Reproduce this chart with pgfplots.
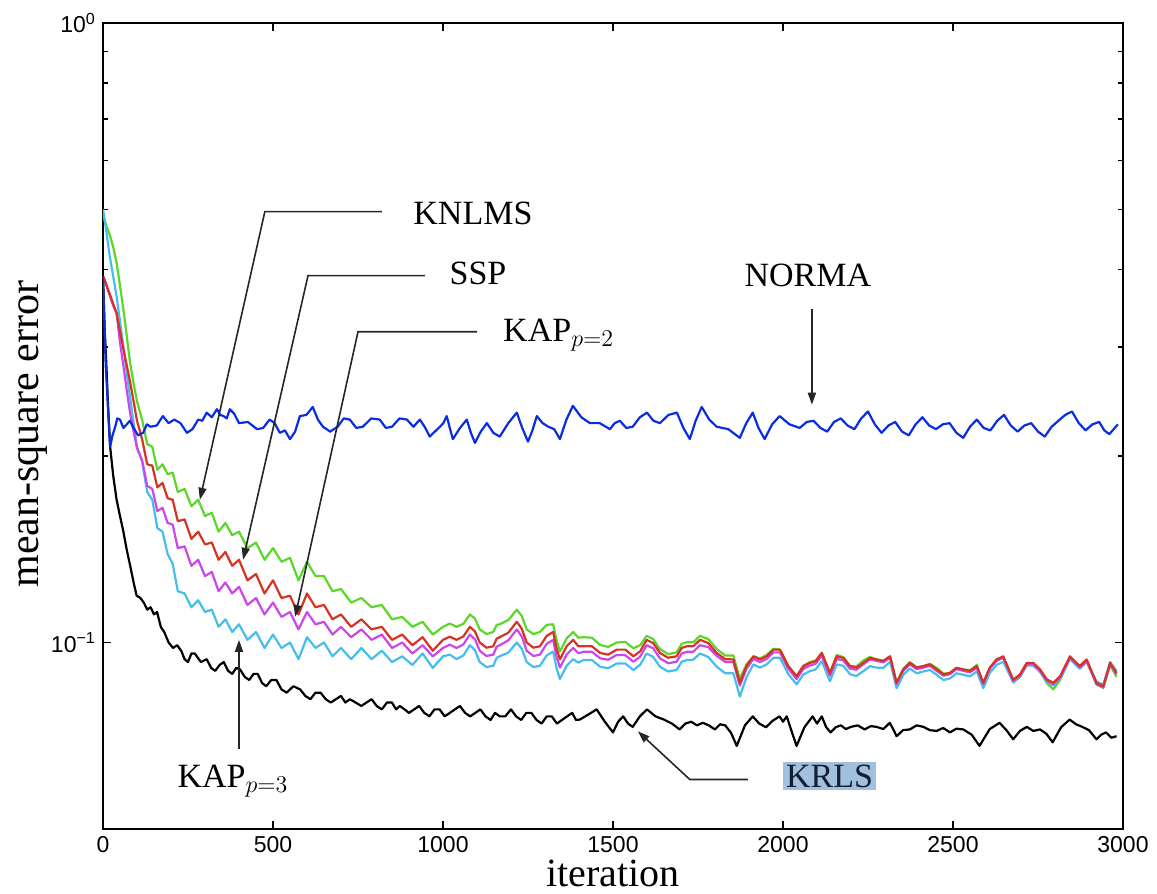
\documentclass[border=0pt]{standalone}
\usepackage{fontspec}
\setmainfont{Liberation Serif}
\newfontfamily\ticksans{Liberation Sans}
\usepackage{pgfplots}
\pgfplotsset{compat=1.18}
\usetikzlibrary{arrows.meta}

\definecolor{normaBlue}{RGB}{10,45,225}
\definecolor{knlmsGreen}{RGB}{90,215,40}
\definecolor{sspRed}{RGB}{215,50,35}
\definecolor{kapMag}{RGB}{205,70,235}
\definecolor{kapCyan}{RGB}{70,190,235}
\definecolor{krlsBox}{RGB}{160,192,222}

% it, KNLMS, SSP, KAP p=2, KAP p=3
\pgfplotstableread{
it    knlms  ssp    kap2   kap3
0     0.490  0.390  0.390  0.500
5     0.480  0.385  0.384  0.480
10    0.470  0.378  0.377  0.460
20    0.455  0.365  0.363  0.420
30    0.435  0.352  0.350  0.390
40    0.410  0.340  0.340  0.362
50    0.377  0.318  0.305  0.330
60    0.345  0.298  0.280  0.300
70    0.312  0.280  0.255  0.272
80    0.282  0.263  0.234  0.248
90    0.262  0.245  0.219  0.226
100   0.245  0.228  0.206  0.207
115   0.229  0.213  0.197  0.196
130   0.209  0.194  0.179  0.175
145   0.207  0.193  0.177  0.170
160   0.190  0.178  0.163  0.153
175   0.194  0.181  0.165  0.151
190   0.187  0.171  0.156  0.139
205   0.188  0.170  0.155  0.134
220   0.175  0.157  0.142  0.121
240   0.177  0.158  0.143  0.120
260   0.166  0.147  0.133  0.114
280   0.170  0.151  0.136  0.117
300   0.160  0.144  0.128  0.112
320   0.162  0.145  0.130  0.113
340   0.151  0.136  0.121  0.106
360   0.156  0.140  0.125  0.109
380   0.149  0.133  0.120  0.104
400   0.151  0.136  0.123  0.107
425   0.142  0.126  0.115  0.101
450   0.145  0.129  0.118  0.104
475   0.136  0.120  0.111  0.098
500   0.142  0.126  0.116  0.103
525   0.135  0.118  0.110  0.098
550   0.137  0.119  0.112  0.100
575   0.126  0.111  0.105  0.094
600   0.135  0.120  0.112  0.102
625   0.128  0.114  0.107  0.098
650   0.128  0.115  0.108  0.100
675   0.121  0.109  0.103  0.095
700   0.122  0.111  0.106  0.098
730   0.116  0.106  0.102  0.094
760   0.118  0.109  0.105  0.098
790   0.114  0.105  0.101  0.094
820   0.115  0.106  0.103  0.097
850   0.109  0.101  0.098  0.093
880   0.110  0.103  0.100  0.095
910   0.106  0.099  0.096  0.092
940   0.108  0.102  0.099  0.096
970   0.103  0.097  0.095  0.091
1000  0.106  0.101  0.098  0.095
1020  0.1073 0.1022 0.0992 0.0956
1040  0.106  0.101  0.098  0.094
1060  0.1072 0.1023 0.0993 0.0953
1079  0.111  0.106  0.103  0.099
1094  0.1093 0.1042 0.1012 0.0972
1108  0.105  0.100  0.097  0.093
1128  0.1032 0.0981 0.0951 0.0913
1148  0.104  0.0986 0.0956 0.0917
1158  0.1068 0.1015 0.0985 0.0945
1167  0.107  0.102  0.099  0.095
1192  0.1087 0.1037 0.1008 0.0963
1217  0.113  0.108  0.105  0.100
1232  0.1103 0.1052 0.1022 0.0977
1246  0.105  0.100  0.097  0.093
1266  0.1032 0.0981 0.0951 0.0913
1285  0.104  0.0986 0.0956 0.0917
1305  0.1068 0.1025 0.0995 0.0953
1324  0.107  0.104  0.101  0.0967
1334  0.1007 0.0978 0.0949 0.0909
1344  0.0967 0.0939 0.0911 0.0873
1364  0.1016 0.0987 0.0957 0.0918
1383  0.104  0.101  0.098  0.094
1398  0.1018 0.0986 0.0961 0.0928
1413  0.102  0.0986 0.0966 0.0937
1438  0.1018 0.0986 0.0966 0.0937
1462  0.0991 0.0962 0.0943 0.0914
1486  0.0984 0.0956 0.0938 0.0909
1511  0.100  0.0974 0.0955 0.0925
1536  0.1002 0.0974 0.0954 0.0925
1560  0.0979 0.0950 0.0931 0.0903
1580  0.0990 0.0968 0.0949 0.0921
1599  0.1025 0.101  0.099  0.0960
1618  0.1013 0.0998 0.0979 0.0948
1638  0.0976 0.0962 0.0943 0.0914
1662  0.0958 0.0945 0.0926 0.0898
1687  0.0964 0.0950 0.0931 0.0903
1702  0.0995 0.0980 0.0960 0.0931
1717  0.1001 0.0986 0.0966 0.0937
1736  0.1001 0.0986 0.0966 0.0938
1756  0.1025 0.101  0.099  0.0960
1780  0.1013 0.0998 0.0983 0.0948
1805  0.0976 0.0962 0.0952 0.0914
1830  0.0953 0.0940 0.0930 0.0892
1854  0.0953 0.0939 0.0930 0.0892
1873  0.0874 0.0861 0.0852 0.0818
1893  0.0923 0.0917 0.0908 0.0880
1913  0.0950 0.0950 0.0941 0.0922
1932  0.0942 0.0939 0.0930 0.0911
1952  0.0955 0.0950 0.0941 0.0922
1972  0.0977 0.0974 0.0964 0.0945
1991  0.0974 0.0974 0.0964 0.0945
2015  0.0917 0.0917 0.0908 0.0890
2040  0.0882 0.0882 0.0873 0.0856
2060  0.0917 0.0916 0.0907 0.0888
2079  0.0930 0.0927 0.0918 0.0899
2096  0.0935 0.0933 0.0924 0.0905
2114  0.0962 0.0962 0.0952 0.0933
2138  0.0893 0.0893 0.0884 0.0866
2158  0.0955 0.0950 0.0941 0.0922
2178  0.0947 0.0944 0.0935 0.0917
2197  0.0916 0.0916 0.0907 0.0889
2216  0.0915 0.0911 0.0904 0.0883
2236  0.0935 0.0927 0.0922 0.0899
2256  0.0948 0.0944 0.0939 0.0916
2275  0.0939 0.0939 0.0934 0.0911
2295  0.0934 0.0934 0.0929 0.0910
2315  0.0950 0.0950 0.0945 0.0931
2334  0.0861 0.0861 0.0857 0.0844
2354  0.0907 0.0905 0.0901 0.0887
2373  0.0930 0.0927 0.0922 0.0908
2393  0.0912 0.0911 0.0906 0.0892
2413  0.0916 0.0916 0.0911 0.0898
2432  0.0924 0.0922 0.0917 0.0903
2452  0.0910 0.0905 0.0900 0.0887
2472  0.0891 0.0888 0.0884 0.0870
2491  0.0893 0.0893 0.0889 0.0875
2510  0.0910 0.0910 0.0906 0.0892
2530  0.0905 0.0905 0.0900 0.0887
2550  0.0902 0.0900 0.0895 0.0882
2570  0.0920 0.0916 0.0911 0.0898
2589  0.0855 0.0861 0.0857 0.0844
2608  0.0908 0.0911 0.0907 0.0893
2628  0.0939 0.0939 0.0934 0.0920
2648  0.0945 0.0950 0.0945 0.0931
2677  0.0865 0.0871 0.0867 0.0862
2697  0.0885 0.0888 0.0884 0.0879
2717  0.0927 0.0927 0.0922 0.0918
2736  0.0925 0.0927 0.0922 0.0918
2756  0.0900 0.0905 0.0900 0.0896
2776  0.0860 0.0872 0.0868 0.0864
2795  0.0840 0.0861 0.0857 0.0852
2815  0.0870 0.0882 0.0878 0.0873
2844  0.0945 0.0950 0.0945 0.0940
2873  0.0916 0.0916 0.0911 0.0907
2893  0.0935 0.0939 0.0934 0.0930
2922  0.0855 0.0861 0.0857 0.0865
2942  0.0845 0.0850 0.0846 0.0855
2962  0.0920 0.0927 0.0922 0.0930
2981  0.0880 0.0893 0.0889 0.0900
}\msedata

\begin{document}
\begin{tikzpicture}
\begin{axis}[
  scale only axis, width=510pt, height=403pt,
  ymode=log, xmin=0, xmax=3000, ymin=0.05, ymax=1,
  xtick={0,500,...,3000},
  ytick={0.1,1}, yticklabels={10\textsuperscript{−1},10\textsuperscript{0}},
  tick align=inside, major tick length=4pt, minor tick length=2.5pt,
  axis line style={line width=1.2pt},
  every tick/.style={black, line width=0.8pt},
  tick label style={font=\ticksans\fontsize{11.5}{13}\selectfont},
  /pgf/number format/assume math mode=true,
  /pgf/number format/1000 sep={},
  xlabel={iteration}, ylabel={mean-square error},
  every axis x label/.style={at={(axis description cs:0.5,-0.055)}, anchor=center, font=\fontsize{20}{22}\selectfont},
  every axis y label/.style={at={(axis description cs:-0.069,0.49)}, rotate=90, anchor=center, font=\fontsize{21}{23}\selectfont},
  every axis plot/.append style={line width=1.1pt, line join=round},
]
  % KRLS
  \addplot[black] coordinates {
    (0,0.39) (5,0.32) (10,0.28) (15,0.24) (21,0.207) (30,0.186) (40,0.170) (50,0.160)
    (59,0.152) (70,0.141) (80,0.133) (90,0.125) (99,0.119) (110,0.118) (120,0.116)
    (130,0.113) (140,0.114) (150,0.111) (159,0.112) (170,0.106) (180,0.104) (193,0.100)
    (206,0.098) (218,0.099) (230,0.097) (240,0.094) (250,0.093) (260,0.096) (270,0.096)
    (288,0.093) (305,0.094) (318,0.091) (330,0.090) (343,0.092) (355,0.093) (368,0.090)
    (380,0.089) (392,0.091) (403,0.0905) (417,0.088) (430,0.087) (443,0.089) (455,0.089)
    (468,0.086) (480,0.085) (495,0.087) (510,0.087) (525,0.084) (540,0.083) (560,0.085)
    (580,0.084) (595,0.082) (610,0.081) (625,0.083) (640,0.083) (655,0.081) (670,0.080)
    (685,0.081) (700,0.082) (713,0.080) (726,0.081) (743,0.080) (760,0.079) (775,0.080)
    (790,0.081) (805,0.079) (820,0.078) (835,0.080) (850,0.080) (862,0.078) (873,0.079)
    (887,0.078) (900,0.077) (915,0.078) (930,0.079) (945,0.077) (960,0.076) (975,0.078)
    (990,0.078) (1005,0.076) (1020,0.077) (1035,0.078) (1050,0.079) (1065,0.077)
    (1080,0.076) (1095,0.077) (1110,0.078) (1125,0.076) (1140,0.075) (1153,0.077)
    (1167,0.076) (1183,0.076) (1200,0.078) (1215,0.076) (1230,0.075) (1245,0.077)
    (1260,0.077) (1275,0.075) (1290,0.074) (1305,0.076) (1320,0.076) (1335,0.074)
    (1350,0.075) (1365,0.076) (1380,0.077) (1391,0.075) (1402,0.0751) (1427,0.0765)
    (1452,0.0780) (1476,0.0745) (1500,0.0716) (1515,0.0745) (1530,0.0760) (1544,0.0740)
    (1558,0.0731) (1579,0.0760) (1600,0.0780) (1625,0.0760) (1650,0.0751) (1673,0.0740)
    (1696,0.0724) (1713,0.0740) (1730,0.0745) (1747,0.0735) (1764,0.0742) (1782,0.0735)
    (1800,0.0724) (1815,0.0738) (1830,0.0735) (1847,0.0715) (1864,0.0681) (1888,0.0735)
    (1911,0.0760) (1930,0.0740) (1950,0.0730) (1970,0.0748) (1990,0.0760) (2000,0.0745)
    (2011,0.0760) (2025,0.0720) (2040,0.0681) (2063,0.0730) (2087,0.0760) (2100,0.0740)
    (2114,0.0760) (2127,0.0730) (2140,0.0716) (2155,0.0730) (2170,0.0735) (2185,0.0725)
    (2200,0.0731) (2220,0.0735) (2240,0.0724) (2258,0.0733) (2275,0.0731) (2295,0.0725)
    (2314,0.0742) (2324,0.0725) (2334,0.0706) (2353,0.0722) (2373,0.0724) (2393,0.0735)
    (2413,0.0731) (2432,0.0722) (2452,0.0720) (2471,0.0728) (2491,0.0716) (2510,0.0726)
    (2530,0.0724) (2555,0.0710) (2578,0.0681) (2608,0.0725) (2637,0.0742) (2657,0.0722)
    (2677,0.0698) (2697,0.0720) (2717,0.0731) (2736,0.0720) (2756,0.0724) (2775,0.0712)
    (2793,0.0690) (2818,0.0730) (2843,0.0751) (2862,0.0738) (2880,0.0731) (2900,0.0722)
    (2922,0.0698) (2936,0.0710) (2950,0.0716) (2966,0.0702) (2981,0.0706)
  };
  \addplot[knlmsGreen] table[x=it, y=knlms] {\msedata};
  \addplot[kapCyan]    table[x=it, y=kap3]  {\msedata};
  \addplot[kapMag]     table[x=it, y=kap2]  {\msedata};
  \addplot[sspRed]     table[x=it, y=ssp]   {\msedata};
  % NORMA
  \addplot[normaBlue] coordinates {
    (0,0.39) (8,0.28) (21,0.207) (28,0.216) (35,0.222) (42,0.230) (50,0.229) (60,0.222)
    (70,0.225) (79,0.228) (88,0.223) (103,0.216) (118,0.218) (129,0.225) (140,0.223)
    (158,0.224) (176,0.232) (193,0.226) (210,0.229) (228,0.226) (247,0.218) (263,0.221)
    (280,0.229) (292,0.228) (305,0.235) (320,0.231) (335,0.238) (345,0.233) (355,0.232)
    (364,0.230) (373,0.238) (386,0.234) (400,0.226) (426,0.227) (453,0.221) (471,0.222)
    (490,0.229) (505,0.226) (520,0.218) (535,0.220) (550,0.213) (565,0.219) (579,0.232)
    (598,0.233) (617,0.240) (632,0.229) (647,0.223) (668,0.219) (690,0.223) (708,0.230)
    (726,0.229) (745,0.222) (764,0.223) (789,0.230) (814,0.229) (832,0.222) (850,0.223)
    (872,0.230) (894,0.229) (913,0.223) (932,0.229) (946,0.223) (961,0.215) (976,0.219)
    (991,0.223) (1001,0.226) (1011,0.232) (1020,0.222) (1029,0.213) (1050,0.222)
    (1070,0.229) (1082,0.218) (1094,0.210) (1111,0.219) (1129,0.226) (1148,0.218)
    (1167,0.215) (1192,0.226) (1217,0.235) (1233,0.222) (1250,0.211) (1263,0.220)
    (1276,0.232) (1293,0.226) (1310,0.223) (1327,0.221) (1344,0.213) (1363,0.229)
    (1382,0.241) (1407,0.231) (1432,0.226) (1461,0.226) (1491,0.221) (1505,0.226)
    (1520,0.228) (1539,0.222) (1558,0.223) (1579,0.231) (1600,0.235) (1619,0.228)
    (1638,0.226) (1663,0.233) (1688,0.235) (1707,0.222) (1726,0.213) (1743,0.228)
    (1761,0.240) (1783,0.229) (1805,0.223) (1839,0.221) (1873,0.214) (1892,0.226)
    (1911,0.235) (1928,0.222) (1946,0.213) (1968,0.225) (1990,0.232) (2019,0.225)
    (2049,0.222) (2070,0.227) (2090,0.228) (2110,0.222) (2130,0.219) (2150,0.227)
    (2170,0.230) (2190,0.224) (2210,0.221) (2230,0.230) (2250,0.236) (2270,0.225)
    (2290,0.218) (2310,0.224) (2330,0.227) (2350,0.219) (2370,0.216) (2390,0.225)
    (2410,0.231) (2430,0.224) (2450,0.221) (2470,0.225) (2490,0.226) (2510,0.218)
    (2530,0.214) (2550,0.223) (2570,0.229) (2590,0.222) (2610,0.220) (2630,0.228)
    (2650,0.233) (2670,0.224) (2690,0.219) (2710,0.224) (2730,0.226) (2750,0.219)
    (2770,0.215) (2790,0.223) (2810,0.228) (2830,0.233) (2850,0.236) (2870,0.226)
    (2890,0.220) (2910,0.225) (2930,0.227) (2945,0.220) (2960,0.217) (2985,0.225)
  };

  % callouts
  \begin{scope}[line width=0.8pt, black!85, -{Triangle[length=6pt,width=4pt]}]
    \draw (axis cs:821,0.496) -- (axis cs:476,0.496) -- (axis cs:285,0.170);
    \draw (axis cs:947,0.391) -- (axis cs:603,0.391) -- (axis cs:412,0.136);
    \draw (axis cs:1100,0.3174) -- (axis cs:750,0.3174) -- (axis cs:565,0.110);
    \draw (axis cs:400,0.0672) -- (axis cs:400,0.101);
    \draw (axis cs:2085,0.346) -- (axis cs:2085,0.242);
    \draw (axis cs:1897,0.0601) -- (axis cs:1726,0.0601) -- (axis cs:1573,0.0719);
  \end{scope}
  \begin{scope}[font=\fontsize{17}{19}\selectfont]
    \node[anchor=base, inner sep=0pt] at (axis cs:1088,0.472) {KNLMS};
    \node[anchor=base, inner sep=0pt] at (axis cs:1103,0.378) {SSP};
    \node[anchor=base west, inner sep=0pt] at (axis cs:1176,0.306) {KAP$_{p=2}$};
    \node[anchor=base west, inner sep=0pt] at (axis cs:218,0.0584) {KAP$_{p=3}$};
    \node[anchor=base, inner sep=0pt] at (axis cs:2073,0.375) {NORMA};
    \node[anchor=center, inner sep=1.5pt, fill=krlsBox, text={rgb,255:red,20;green,30;blue,50}] at (axis cs:2137,0.0609) {KRLS};
  \end{scope}
\end{axis}
\pgfresetboundingbox
\path[use as bounding box] (-51.5pt,-32.5pt) rectangle (527pt,414.5pt);
\end{tikzpicture}
\end{document}
